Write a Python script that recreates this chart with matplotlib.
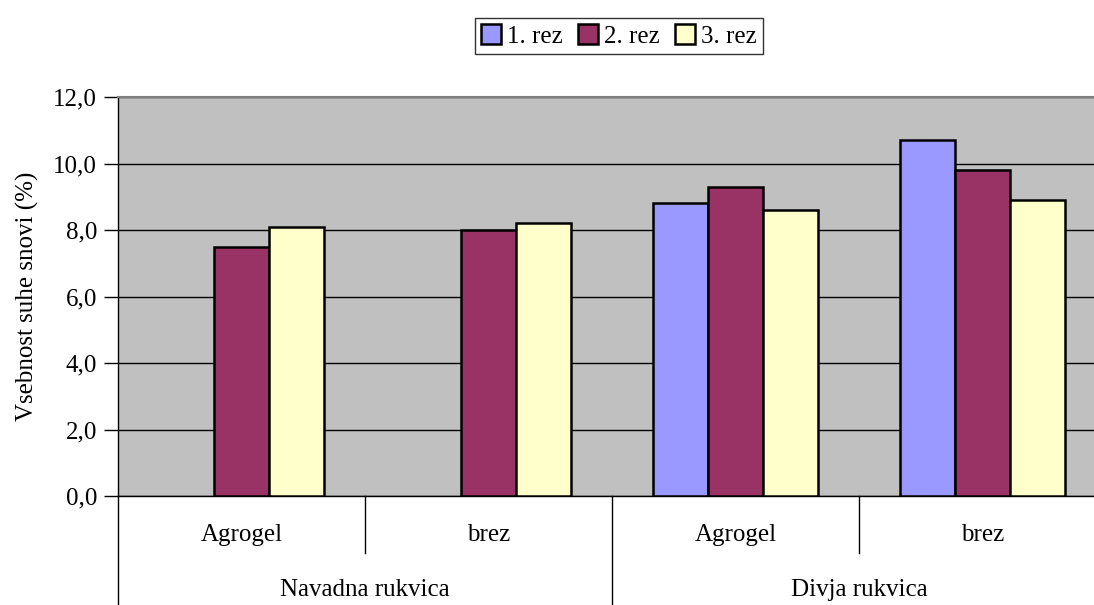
import numpy as np
import matplotlib
matplotlib.use("Agg")
import matplotlib.pyplot as plt
import matplotlib.transforms as mtransforms
from matplotlib.patches import Patch

plt.rcParams["font.family"] = ["Liberation Serif", "DejaVu Serif"]

# ── data ────────────────────────────────────────────────────────────────
sub_labels = ["Agrogel", "brez", "Agrogel", "brez"]
group_labels = ["Navadna rukvica", "Divja rukvica"]
series_names = ["1. rez", "2. rez", "3. rez"]
rez1 = [np.nan, np.nan, 8.8, 10.7]
rez2 = [7.5, 8.0, 9.3, 9.8]
rez3 = [8.1, 8.2, 8.6, 8.9]
y_ticks = [0, 2, 4, 6, 8, 10, 12]
y_tick_labels = ["0,0", "2,0", "4,0", "6,0", "8,0", "10,0", "12,0"]

colors = ["#9999FF", "#993366", "#FFFFCC"]
FS = 18

fig = plt.figure(figsize=(10.94, 6.05), dpi=100)
W, H = 1094, 605
left, right, top, bottom = 118, 1106, 97, 496
ax = fig.add_axes([left / W, 1 - bottom / H, (right - left) / W, (bottom - top) / H])
ax.set_facecolor("#C0C0C0")

x = np.arange(len(sub_labels))
bw = 1 / 4.5
for i, (vals, c) in enumerate(zip([rez1, rez2, rez3], colors)):
    ax.bar(x + (i - 1) * bw, vals, width=bw, color=c, edgecolor="black",
           linewidth=1.8, zorder=3)

ax.set_xlim(-0.5, 3.5)
ax.set_ylim(0, 12)
ax.set_yticks(y_ticks)
ax.set_yticklabels(y_tick_labels, fontsize=FS)
ax.yaxis.grid(True, color="black", linewidth=1.0, zorder=1)
ax.set_axisbelow(True)
ax.tick_params(axis="y", direction="out", length=10, width=1, pad=5)
ax.set_xticks([])

ax.spines["right"].set_visible(False)
ax.spines["top"].set_color("#808080")
ax.spines["top"].set_linewidth(1.5)
ax.spines["left"].set_linewidth(1)
ax.spines["bottom"].set_linewidth(1)

ax.set_ylabel("Vsebnost suhe snovi (%)", fontsize=FS, labelpad=10)

# category axis lines below the plot
trans = mtransforms.blended_transform_factory(ax.transData, ax.transAxes)
short = (bottom - 553) / (bottom - top)
long_ = (bottom - 605) / (bottom - top)
for xv, yb in [(-0.5, long_), (0.5, short), (1.5, long_), (2.5, short)]:
    ax.plot([xv, xv], [0, yb], color="black", linewidth=1, transform=trans,
            clip_on=False)

sub_y = (bottom - 535) / (bottom - top)
grp_y = (bottom - 590) / (bottom - top)
for xi, lab in zip(x, sub_labels):
    ax.text(xi, sub_y, lab, transform=trans, ha="center", va="center", fontsize=FS)
for xi, lab in zip([0.5, 2.5], group_labels):
    ax.text(xi, grp_y, lab, transform=trans, ha="center", va="center", fontsize=FS)

# legend
handles = [Patch(facecolor=c, edgecolor="black", linewidth=1.8) for c in colors]
leg = fig.legend(handles, series_names, loc="center", bbox_to_anchor=(619 / W, 1 - 36 / H),
                 ncol=3, fontsize=FS, frameon=True, fancybox=False,
                 handlelength=0.8, handleheight=0.8, handletextpad=0.25,
                 columnspacing=0.6, borderpad=0.25, borderaxespad=0)
leg.get_frame().set_edgecolor("black")
leg.get_frame().set_linewidth(1)

fig.savefig("out.png", dpi=100)
